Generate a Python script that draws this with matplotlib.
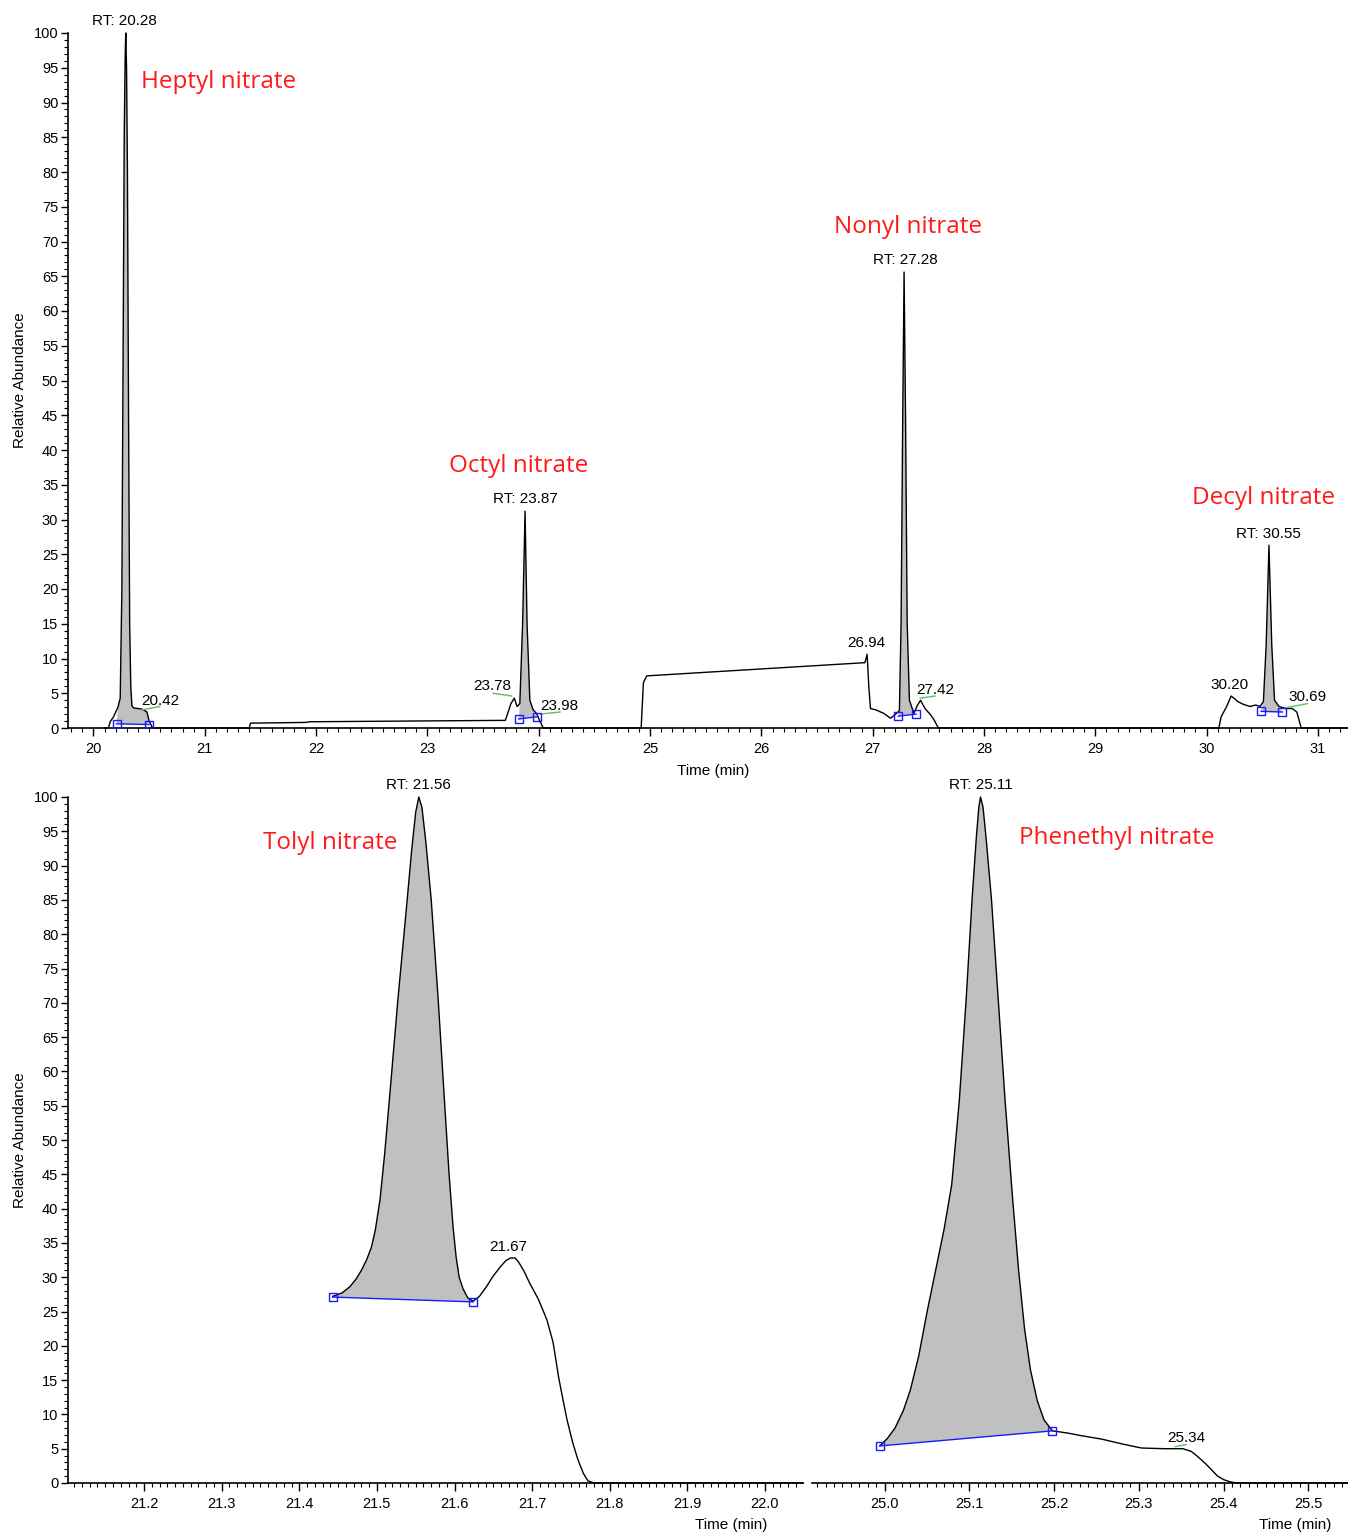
import numpy as np
import matplotlib
matplotlib.use("Agg")
import matplotlib.pyplot as plt
from matplotlib.patches import Polygon
from matplotlib.ticker import MultipleLocator

plt.rcParams['font.family'] = ['Liberation Sans', 'DejaVu Sans']

# ---- top chromatogram (alkyl nitrates) ----
top_t = [20.10, 20.135, 20.15, 20.18, 20.22, 20.24, 20.255, 20.268, 20.276, 20.285,
         20.29, 20.297, 20.305, 20.315, 20.325, 20.335, 20.345, 20.36, 20.40, 20.44,
         20.48, 20.50, 20.53, 21.40, 21.41, 21.90, 21.95, 23.70, 23.75, 23.78,
         23.805, 23.83, 23.855, 23.877, 23.895, 23.92, 23.95, 23.98, 24.01, 24.04,
         24.92, 24.94, 24.97, 26.93, 26.95, 26.965, 26.98, 27.03, 27.10, 27.16,
         27.20, 27.24, 27.255, 27.27, 27.282, 27.295, 27.31, 27.33, 27.37, 27.40,
         27.43, 27.47, 27.52, 27.55, 27.59, 30.11, 30.13, 30.18, 30.22, 30.26,
         30.28, 30.33, 30.39, 30.44, 30.48, 30.51, 30.535, 30.56, 30.585, 30.61,
         30.65, 30.71, 30.77, 30.81, 30.85, 31.27]
top_y = [0, 0, 0.9, 1.6, 3.0, 4.3, 20, 60, 85, 97,
         100, 95, 80, 45, 15, 6, 3.2, 2.9, 2.8, 2.7,
         2.3, 1.0, 0, 0, 0.7, 0.8, 0.9, 1.1, 3.5, 4.3,
         3.1, 3.5, 15, 31.2, 15, 4, 2.6, 2.1, 1.0, 0,
         0, 6.5, 7.5, 9.4, 10.6, 6, 2.8, 2.6, 2.1, 1.4,
         1.9, 2.5, 15, 45, 65.6, 45, 15, 4, 2.1, 3.2,
         4.0, 2.8, 1.9, 1.2, 0, 0, 1.6, 3.1, 4.6, 4.1,
         3.8, 3.4, 3.1, 3.3, 3.1, 3.8, 12, 26.3, 12, 4,
         3.1, 2.8, 2.8, 2.3, 0, 0]
top_base = [((20.207, 0.6), (20.497, 0.5)),
            ((23.82, 1.3), (23.98, 1.6)),
            ((27.23, 1.7), (27.39, 2.0)),
            ((30.49, 2.4), (30.68, 2.3))]
top_rt = [("RT: 20.28", 20.28, 101.7), ("RT: 23.87", 23.877, 33.0),
          ("RT: 27.28", 27.29, 67.3), ("RT: 30.55", 30.553, 27.9)]
top_marks = [("20.42", 20.597, 3.9), ("23.78", 23.578, 6.0), ("23.98", 24.185, 3.2),
             ("26.94", 26.947, 12.2), ("27.42", 27.56, 5.5), ("30.20", 30.21, 6.2),
             ("30.69", 30.906, 4.5)]
top_green = [((20.433, 2.6), (20.597, 3.1)), ((23.592, 5.0), (23.757, 4.6)),
             ((24.012, 2.0), (24.191, 2.3)), ((27.426, 4.3), (27.56, 4.6)),
             ((30.705, 2.9), (30.905, 3.5))]
top_names = [("Heptyl nitrate", 21.128, 92.9), ("Octyl nitrate", 23.823, 37.7),
             ("Nonyl nitrate", 27.318, 72.1), ("Decyl nitrate", 30.508, 33.1)]

# ---- bottom left (tolyl nitrate) ----
tol_t = [21.443, 21.455, 21.465, 21.473, 21.48, 21.487, 21.493, 21.498, 21.504, 21.510,
         21.516, 21.527, 21.539, 21.545, 21.550, 21.554, 21.558, 21.563, 21.570, 21.579,
         21.587, 21.593, 21.598, 21.602, 21.606, 21.611, 21.617, 21.624, 21.632, 21.641,
         21.650, 21.659, 21.666, 21.672, 21.678, 21.682, 21.689, 21.697, 21.708, 21.719,
         21.727, 21.734, 21.740, 21.745, 21.752, 21.759, 21.766, 21.772, 21.78, 22.049]
tol_y = [27.2, 27.7, 28.6, 29.7, 31.0, 32.6, 34.4, 36.9, 41.3, 48.0,
         55.8, 70.4, 85.0, 92.5, 97.8, 100.0, 98.5, 93.5, 85.0, 70.4,
         55.8, 45.0, 37.5, 33.0, 30.0, 28.3, 27.0, 26.5, 27.2, 28.6,
         30.2, 31.5, 32.4, 32.8, 32.8, 32.3, 31.0, 29.1, 26.8, 23.8,
         20.5, 15.5, 12.0, 9.2, 6.0, 3.4, 1.4, 0.3, 0, 0]
tol_base = ((21.443, 27.1), (21.624, 26.4))

# ---- bottom right (phenethyl nitrate) ----
phe_t = [24.994, 25.003, 25.012, 25.022, 25.030, 25.040, 25.050, 25.060, 25.070, 25.079,
         25.088, 25.096, 25.103, 25.108, 25.111, 25.113, 25.116, 25.120, 25.126, 25.134,
         25.142, 25.151, 25.158, 25.165, 25.172, 25.180, 25.188, 25.198, 25.215, 25.232,
         25.256, 25.280, 25.303, 25.330, 25.352, 25.362, 25.370, 25.378, 25.386, 25.393,
         25.400, 25.407, 25.415, 25.547]
phe_y = [5.4, 6.5, 8.0, 10.6, 13.5, 18.5, 25.0, 31.0, 37.0, 43.5,
         55.8, 70.4, 85.0, 94.0, 98.5, 100.0, 98.5, 93.5, 85.0, 70.4,
         55.8, 41.3, 31.0, 22.5, 16.5, 12.0, 9.2, 7.6, 7.3, 6.9,
         6.4, 5.7, 5.1, 5.0, 5.0, 4.6, 3.8, 2.9, 1.9, 1.0,
         0.5, 0.2, 0, 0]
phe_base = ((24.994, 5.4), (25.198, 7.6))

W, H = 1348, 1535
fig = plt.figure(figsize=(W / 100, H / 100), dpi=100)


def box(x0, y0, x1, y1):
    return [x0 / W, 1 - y1 / H, (x1 - x0) / W, (y1 - y0) / H]


ax_top = fig.add_axes(box(68, 33, 1348, 728))
ax_bl = fig.add_axes(box(68, 797, 803, 1483))
ax_br = fig.add_axes(box(812, 797, 1348, 1483))


def style(ax, major, minor, fmt, yaxis=True):
    for s in ['top', 'right']:
        ax.spines[s].set_visible(False)
    ax.spines['bottom'].set_linewidth(1.2)
    ax.spines['left'].set_linewidth(1.2)
    ax.set_ylim(0, 100)
    ax.xaxis.set_major_locator(MultipleLocator(major))
    ax.xaxis.set_minor_locator(MultipleLocator(minor))
    ax.xaxis.set_major_formatter(fmt)
    ax.tick_params(axis='x', which='major', direction='out', length=6, width=1,
                   labelsize=10.5, pad=4)
    ax.tick_params(axis='x', which='minor', direction='out', length=3, width=0.8)
    if yaxis:
        ax.yaxis.set_major_locator(MultipleLocator(5))
        ax.yaxis.set_minor_locator(MultipleLocator(1))
        ax.tick_params(axis='y', which='major', direction='out', length=5, width=1,
                       labelsize=10.5, pad=2)
        ax.tick_params(axis='y', which='minor', direction='out', length=3, width=0.8)
    else:
        ax.spines['left'].set_visible(False)
        ax.set_yticks([])


def peak_fill(ax, t, y, base):
    (t0, b0), (t1, b1) = base
    pts = [(t0, b0)] + [(a, b) for a, b in zip(t, y) if t0 < a < t1] + [(t1, b1)]
    ax.add_patch(Polygon(pts, closed=True, facecolor='#c0c0c0', edgecolor='none', zorder=1))
    ax.plot([t0, t1], [b0, b1], color='#1a1aff', lw=1, zorder=3)
    ax.plot([t0, t1], [b0, b1], ls='none', marker='s', ms=6, mfc='none',
            mec='#1a1aff', mew=1, zorder=4)


red = dict(color='#ff1a1a', fontsize=17.5, family=['Open Sans', 'DejaVu Sans'],
           ha='center', va='center')
blk = dict(fontsize=11, ha='center', va='center', clip_on=False)

# top panel
style(ax_top, 1, 0.1, '{x:.0f}')
ax_top.set_xlim(19.771, 31.27)
ax_top.plot(top_t, top_y, color='black', lw=1, zorder=2, clip_on=False)
for b in top_base:
    peak_fill(ax_top, top_t, top_y, b)
for (a, b) in top_green:
    ax_top.plot([a[0], b[0]], [a[1], b[1]], color='#5cc05c', lw=1, zorder=3)
for txt, x, y in top_rt + top_marks:
    ax_top.text(x, y, txt, **blk)
for txt, x, y in top_names:
    ax_top.text(x, y, txt, clip_on=False, **red)

# bottom left
style(ax_bl, 0.1, 0.01, '{x:.1f}')
ax_bl.set_xlim(21.102, 22.049)
ax_bl.plot(tol_t, tol_y, color='black', lw=1, zorder=2, clip_on=False)
peak_fill(ax_bl, tol_t, tol_y, tol_base)
ax_bl.text(21.553, 101.7, "RT: 21.56", **blk)
ax_bl.text(21.669, 34.4, "21.67", **blk)
ax_bl.text(21.44, 93.3, "Tolyl nitrate", **red)

# bottom right
style(ax_br, 0.1, 0.01, '{x:.1f}', yaxis=False)
ax_br.set_xlim(24.914, 25.547)
ax_br.plot(phe_t, phe_y, color='black', lw=1, zorder=2, clip_on=False)
peak_fill(ax_br, phe_t, phe_y, phe_base)
ax_br.plot([25.343, 25.356], [5.3, 5.6], color='#5cc05c', lw=1, zorder=3)
ax_br.text(25.113, 101.7, "RT: 25.11", **blk)
ax_br.text(25.356, 6.5, "25.34", **blk)
ax_br.text(25.274, 94.0, "Phenethyl nitrate", **red)

# axis titles
lab = dict(fontsize=11, ha='center', va='center')
fig.text(20 / W, 1 - 380 / H, "Relative Abundance", rotation=90, **lab)
fig.text(20 / W, 1 - 1140 / H, "Relative Abundance", rotation=90, **lab)
fig.text(713 / W, 1 - 771 / H, "Time (min)", **lab)
fig.text(731 / W, 1 - 1525 / H, "Time (min)", **lab)
fig.text(1295 / W, 1 - 1525 / H, "Time (min)", **lab)

fig.savefig("out.png", dpi=100)
